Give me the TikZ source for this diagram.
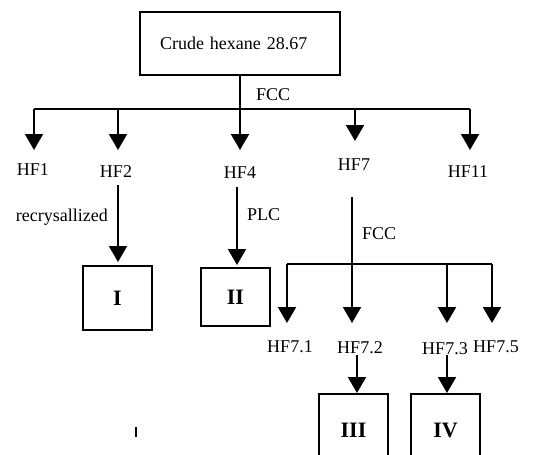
\documentclass[tikz,border=0pt]{standalone}
\usepackage{fontspec}
\setmainfont{Liberation Serif}
\usetikzlibrary{arrows.meta}
\tikzset{
  ln/.style={line width=2pt},
  arr/.style={line width=2pt, -{Triangle[width=18pt,length=16pt]}},
  lab/.style={inner sep=0pt, font=\fontsize{18}{20}\selectfont},
  rbox/.style={draw, line width=2pt, minimum width=69pt, inner sep=0pt, font=\fontsize{22}{24}\selectfont\bfseries}
}
\begin{document}
\begin{tikzpicture}[x=1pt,y=-1pt]
\useasboundingbox (0,0) rectangle (533,455);
\clip (0,0) rectangle (533,455);
% top box
\node[draw, ln, minimum width=200pt, minimum height=63pt, text width=160pt, inner xsep=20pt, inner ysep=0pt, align=left, font=\fontsize{18}{20}\selectfont] (top) at (240,43.5) {Crude hexane 28.67};
% bar coordinates
\coordinate (b1) at (34,109);
\coordinate (b2) at (118,109);
\coordinate (b4) at (240,109);
\coordinate (b7) at (355,109);
\coordinate (b11) at (470,109);
\draw[ln] (top.south) -- (b4);
\draw[ln] (b1) -- (b11);
\node[lab, anchor=west] (fcc1) at (256,95) {FCC};
% tips
\coordinate (t1) at (34,150);
\coordinate (t2) at (118,150);
\coordinate (t4) at (240,150);
\coordinate (t7) at (355,141);
\coordinate (t11) at (470,150);
\draw[arr] (b1) -- (t1);
\draw[arr] (b2) -- (t2);
\draw[arr] (b4) -- (t4);
\draw[arr] (b7) -- (t7);
\draw[arr] (b11) -- (t11);
% labels
\node[lab] (hf1) at (33,170) {HF1};
\node[lab] (hf2) at (116,172) {HF2};
\node[lab] (hf4) at (240,173) {HF4};
\node[lab] (hf7) at (354,165) {HF7};
\node[lab] (hf11) at (468,172) {HF11};
% I
\node[rbox, minimum height=64pt] (bI) at (117.5,298) {I};
\coordinate (s2) at (118,185);
\coordinate (e2) at (118,262);
\draw[arr] (s2) -- (e2);
\node[lab, anchor=east] (rec) at (108,217) {recrysallized};
% II
\node[rbox, minimum height=58pt] (bII) at (235.5,297) {II};
\coordinate (s4) at (237,187);
\coordinate (e4) at (237,265);
\draw[arr] (s4) -- (e4);
\node[lab, anchor=west] (plc) at (247,215) {PLC};
% HF7 sub-branch
\coordinate (s7) at (352,197);
\coordinate (c1) at (287,264);
\coordinate (c2) at (352,264);
\coordinate (c3) at (447,264);
\coordinate (c5) at (492,264);
\coordinate (u1) at (287,323);
\coordinate (u2) at (352,323);
\coordinate (u3) at (447,323);
\coordinate (u5) at (492,323);
\draw[arr] (s7) -- (u2);
\draw[ln] (c1) -- (c5);
\draw[arr] (c1) -- (u1);
\draw[arr] (c3) -- (u3);
\draw[arr] (c5) -- (u5);
\node[lab, anchor=west] (fcc2) at (362,234) {FCC};
\node[lab] (hf71) at (290,347) {HF7.1};
\node[lab] (hf72) at (360,348) {HF7.2};
\node[lab] (hf73) at (445,349) {HF7.3};
\node[lab] (hf75) at (496,347) {HF7.5};
% III, IV
\node[rbox, minimum height=72pt] (bIII) at (353.5,430) {III};
\node[rbox, minimum height=72pt] (bIV) at (445.5,430) {IV};
\coordinate (s72) at (357,355);
\coordinate (s73) at (447,355);
\draw[arr] (s72) -- (s72 |- bIII.north);
\draw[arr] (s73) -- (s73 |- bIV.north);
% stray tick
\coordinate (k1) at (136,427);
\coordinate (k2) at (136,437);
\draw[line width=1.5pt] (k1) -- (k2);
\end{tikzpicture}
\end{document}
